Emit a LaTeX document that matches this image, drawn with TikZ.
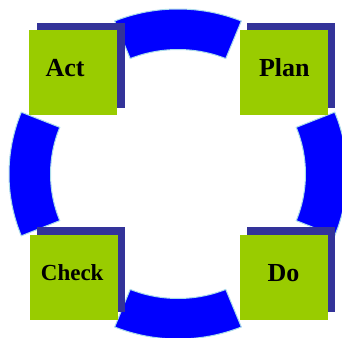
\documentclass[tikz,border=0pt]{standalone}
\usepackage{fontspec}
\setmainfont{Liberation Serif}
\definecolor{ringblue}{RGB}{0,0,255}
\definecolor{ringedge}{RGB}{170,220,235}
\definecolor{boxgreen}{RGB}{153,204,0}
\definecolor{boxnavy}{RGB}{51,51,153}
\tikzset{
  ringseg/.style={fill=ringblue, draw=ringedge, line width=1pt, line join=miter},
  greenbox/.style={fill=boxgreen, draw=none, minimum width=88pt, minimum height=85pt, inner sep=0pt},
  navybox/.style={fill=boxnavy, draw=none, minimum width=88pt, minimum height=85pt, inner sep=0pt},
  biglabel/.style={anchor=base, inner sep=0pt, font=\fontsize{26}{30}\selectfont\bfseries},
  smalllabel/.style={anchor=base, inner sep=0pt, font=\fontsize{23}{27}\selectfont\bfseries}
}
\begin{document}
\begin{tikzpicture}[x=1pt,y=-1pt]
\useasboundingbox (0,0) rectangle (342,337);
\clip (0,0) rectangle (342,337);
\fill[white] (0,0) rectangle (342,337);
\coordinate (c) at (178,174);
\foreach \p in {90,180,270,0} {
  \draw[ringseg, shift={(c)}]
    ({\p-22}:169 and 165) arc[start angle={\p-22}, end angle={\p+22}, x radius=169, y radius=165]
    -- ({\p+22}:127.5 and 124.5) arc[start angle={\p+22}, end angle={\p-22}, x radius=127.5, y radius=124.5]
    -- cycle;
}
% shadows
\node[navybox] (actsh) at (81,65.5) {};
\node[navybox] (plansh) at (291,65.5) {};
\node[navybox] (checksh) at (81,269.5) {};
\node[navybox] (dosh) at (291,269.5) {};
% boxes
\node[greenbox] (act) at (73,72.5) {};
\node[greenbox] (plan) at (284,72.5) {};
\node[greenbox] (check) at (73.5,277.5) {};
\node[greenbox] (do) at (284,277.5) {};
% labels
\node[biglabel] (actl) at (65,76.7) {Act};
\node[biglabel] (planl) at (284.3,76.7) {Plan};
\node[smalllabel] (checkl) at (72.2,280) {Check};
\node[biglabel] (dol) at (283.5,281) {Do};
\end{tikzpicture}
\end{document}
